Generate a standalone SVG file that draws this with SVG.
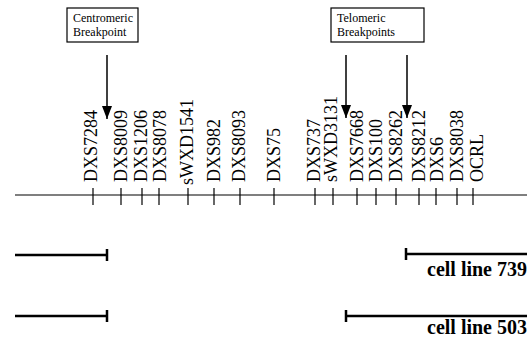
<svg xmlns="http://www.w3.org/2000/svg" width="528" height="337" viewBox="0 0 528 337">
  <defs>
    <marker id="arrow" viewBox="0 0 13 10" refX="13" refY="5" markerWidth="13" markerHeight="10" markerUnits="userSpaceOnUse" orient="auto">
      <path d="M0,0 L13,5 L0,10 Z" fill="#000"/>
    </marker>
  </defs>
  <style>
    .box { fill: #fff; stroke: #000; stroke-width: 1.2; }
    .boxtext { font-family: "Liberation Serif", serif; font-size: 12px; fill: #000; }
    .arrow { stroke: #000; stroke-width: 1.5; fill: none; marker-end: url(#arrow); }
    .axis { stroke: #000; stroke-width: 1.2; }
    .tick { stroke: #000; stroke-width: 1.2; }
    .marker-label { font-family: "Liberation Serif", serif; font-size: 18px; fill: #000; }
    .seg { stroke: #000; stroke-width: 2.5; }
    .bar { stroke: #000; stroke-width: 2.5; }
    .cell-label { font-family: "Liberation Serif", serif; font-size: 20px; font-weight: bold; fill: #000; text-anchor: end; }
  </style>

  <rect width="528" height="337" fill="#fff"/>

  <!-- breakpoint callouts -->
  <g id="centromeric">
    <rect class="box" x="67" y="8" width="71" height="34"/>
    <text class="boxtext" x="73" y="22">Centromeric</text>
    <text class="boxtext" x="73" y="36">Breakpoint</text>
  </g>
  <g id="telomeric">
    <rect class="box" x="331" y="8" width="93" height="34"/>
    <text class="boxtext" x="337" y="22">Telomeric</text>
    <text class="boxtext" x="337" y="36">Breakpoints</text>
  </g>

  <g id="connectors">
    <line class="arrow" x1="107" y1="55" x2="107" y2="119"/>
    <line class="arrow" x1="346" y1="55" x2="346" y2="118"/>
    <line class="arrow" x1="407" y1="55" x2="407" y2="118"/>
  </g>

  <!-- chromosome map with marker loci -->
  <g id="map">
    <line class="axis" x1="15" y1="195" x2="527" y2="195"/>
    <g id="ticks">
      <line class="tick" x1="93" y1="188" x2="93" y2="205"/>
      <line class="tick" x1="121" y1="188" x2="121" y2="205"/>
      <line class="tick" x1="142" y1="188" x2="142" y2="205"/>
      <line class="tick" x1="159" y1="188" x2="159" y2="205"/>
      <line class="tick" x1="188" y1="188" x2="188" y2="205"/>
      <line class="tick" x1="214" y1="188" x2="214" y2="205"/>
      <line class="tick" x1="240" y1="188" x2="240" y2="205"/>
      <line class="tick" x1="274" y1="188" x2="274" y2="205"/>
      <line class="tick" x1="315" y1="188" x2="315" y2="205"/>
      <line class="tick" x1="333" y1="188" x2="333" y2="205"/>
      <line class="tick" x1="357" y1="188" x2="357" y2="205"/>
      <line class="tick" x1="376" y1="188" x2="376" y2="205"/>
      <line class="tick" x1="396" y1="188" x2="396" y2="205"/>
      <line class="tick" x1="419" y1="188" x2="419" y2="205"/>
      <line class="tick" x1="436" y1="188" x2="436" y2="205"/>
      <line class="tick" x1="457" y1="188" x2="457" y2="205"/>
      <line class="tick" x1="473" y1="188" x2="473" y2="205"/>
    </g>
    <g id="labels">
      <text class="marker-label" transform="translate(97,182) rotate(-90)">DXS7284</text>
      <text class="marker-label" transform="translate(127,182) rotate(-90)">DXS8009</text>
      <text class="marker-label" transform="translate(147,182) rotate(-90)">DXS1206</text>
      <text class="marker-label" transform="translate(166,182) rotate(-90)">DXS8078</text>
      <text class="marker-label" transform="translate(193,185) rotate(-90)">sWXD1541</text>
      <text class="marker-label" transform="translate(220,182) rotate(-90)">DXS982</text>
      <text class="marker-label" transform="translate(245,182) rotate(-90)">DXS8093</text>
      <text class="marker-label" transform="translate(280,182) rotate(-90)">DXS75</text>
      <text class="marker-label" transform="translate(320,182) rotate(-90)">DXS737</text>
      <text class="marker-label" transform="translate(337,182) rotate(-90)">sWXD3131</text>
      <text class="marker-label" transform="translate(363,182) rotate(-90)">DXS7668</text>
      <text class="marker-label" transform="translate(382,182) rotate(-90)">DXS100</text>
      <text class="marker-label" transform="translate(402,182) rotate(-90)">DXS8262</text>
      <text class="marker-label" transform="translate(425,182) rotate(-90)">DXS8212</text>
      <text class="marker-label" transform="translate(443,182) rotate(-90)">DXS6</text>
      <text class="marker-label" transform="translate(463,182) rotate(-90)">DXS8038</text>
      <text class="marker-label" transform="translate(483,182) rotate(-90)">OCRL</text>
    </g>
  </g>

  <!-- cell line 739 -->
  <g id="cell-line-739">
    <line class="seg" x1="15" y1="255" x2="107" y2="255"/>
    <line class="bar" x1="107" y1="249" x2="107" y2="261"/>
    <line class="seg" x1="406" y1="254" x2="527" y2="254"/>
    <line class="bar" x1="406" y1="248" x2="406" y2="260"/>
    <text class="cell-label" x="527" y="276">cell line 739</text>
  </g>

  <!-- cell line 503 -->
  <g id="cell-line-503">
    <line class="seg" x1="15" y1="316" x2="107" y2="316"/>
    <line class="bar" x1="107" y1="310" x2="107" y2="322"/>
    <line class="seg" x1="346" y1="316" x2="527" y2="316"/>
    <line class="bar" x1="346" y1="310" x2="346" y2="322"/>
    <text class="cell-label" x="527" y="333.5">cell line 503</text>
  </g>
</svg>
